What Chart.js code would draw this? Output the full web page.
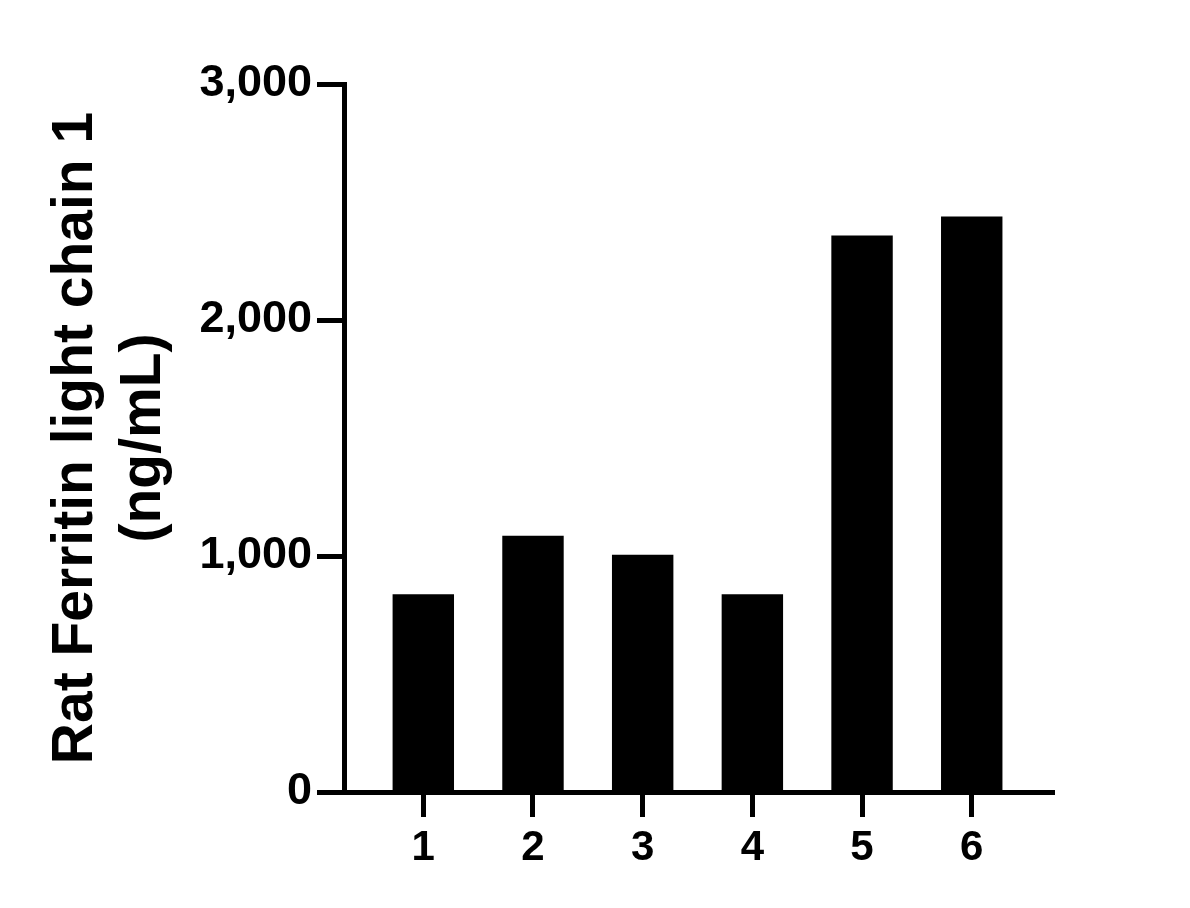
<!DOCTYPE html>
<html>
<head>
<meta charset="utf-8">
<script src="https://cdn.jsdelivr.net/npm/chart.js@4/dist/chart.umd.min.js"></script>
<style>
  html, body { margin: 0; padding: 0; background: #fff; }
  canvas { display: block; }
</style>
</head>
<body>
<canvas id="barChart" width="1190" height="908"></canvas>
<script>
const categories = [1, 2, 3, 4, 5, 6];
const ferritinValues = [838, 1086, 1005, 838, 2358, 2439];
const yTickValues = [0, 1000, 2000, 3000];
const yTitle = ["Rat Ferritin light chain 1", "(ng/mL)"];

const fontFamily = "'Liberation Sans', Arial, sans-serif";

new Chart("barChart", {
  type: "bar",
  data: {
    datasets: [
      {
        data: categories.map((c, i) => ({ x: c, y: ferritinValues[i] })),
        backgroundColor: "#000",
        borderWidth: 0,
        categoryPercentage: 1,
        barPercentage: 0.56,
      },
    ],
  },
  options: {
    responsive: false,
    animation: false,
    devicePixelRatio: 1,
    layout: { padding: { top: 84, right: 136, bottom: 0, left: 0 } },
    plugins: { legend: { display: false }, tooltip: { enabled: false } },
    scales: {
      x: {
        type: "linear",
        offset: false,
        min: 0.277,
        max: 6.75,
        afterBuildTicks: (s) => {
          s.ticks = categories.map((v) => ({ value: v }));
        },
        afterFit: (s) => {
          s.height = 116;
        },
        border: { display: true, color: "#000", width: 5 },
        grid: {
          offset: false,
          drawOnChartArea: false,
          drawTicks: true,
          tickLength: 25,
          tickWidth: 5,
          tickColor: "#000",
        },
        ticks: {
          color: "#000",
          padding: 6,
          font: { family: fontFamily, size: 42, weight: "bold" },
          callback: (v) => String(v),
        },
      },
      y: {
        min: 0,
        max: 3000,
        afterBuildTicks: (s) => {
          s.ticks = yTickValues.map((v) => ({ value: v }));
        },
        afterFit: (s) => {
          s.width = 344;
        },
        border: { display: true, color: "#000", width: 5 },
        grid: {
          drawOnChartArea: false,
          drawTicks: true,
          tickLength: 27,
          tickWidth: 5,
          tickColor: "#000",
        },
        ticks: {
          color: "#000",
          padding: 5,
          font: { family: fontFamily, size: 45, weight: "bold" },
          callback: (v) => v.toLocaleString("en-US"),
        },
        title: {
          display: true,
          text: yTitle,
          color: "#000",
          padding: { top: 42, bottom: 0 },
          font: { family: fontFamily, size: 57, weight: "bold", lineHeight: "68px" },
        },
      },
    },
  },
});
</script>
</body>
</html>
